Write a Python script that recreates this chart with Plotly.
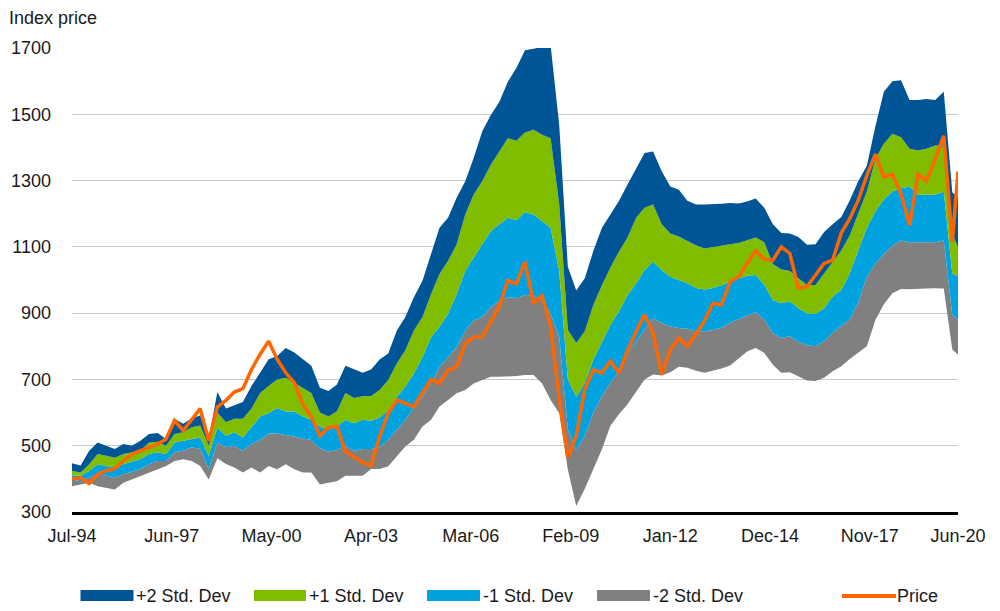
import pandas as pd
import plotly.graph_objects as go

# Quarterly observations Jul-94 ... Apr-20, plus the final Jun-20 point
dates = list(pd.date_range("1994-07-01", "2020-04-01", freq="3MS")) + [pd.Timestamp("2020-06-01")]

upper2 = [447, 440, 485, 510, 500, 490, 505, 500, 515, 535,
          538, 520, 581, 566, 583, 591, 520, 662, 612, 622,
          632, 680, 720, 761, 771, 795, 781, 761, 741, 675,
          665, 685, 741, 731, 720, 730, 760, 778, 848, 888,
          948, 998, 1078, 1158, 1188, 1248, 1298, 1368, 1448, 1498,
          1538, 1598, 1640, 1693, 1698, 1703, 1708, 1468, 1040, 968,
          1005, 1088, 1158, 1198, 1238, 1288, 1338, 1383, 1388, 1328,
          1282, 1272, 1239, 1228, 1228, 1228, 1230, 1232, 1231, 1237,
          1246, 1218, 1168, 1142, 1140, 1130, 1106, 1108, 1145, 1168,
          1190, 1240, 1298, 1345, 1465, 1568, 1600, 1603, 1543, 1543,
          1546, 1543, 1568, 1265, 1248]

upper1 = [424, 419, 444, 475, 470, 464, 475, 480, 485, 510,
          512, 500, 535, 541, 556, 561, 500, 600, 571, 581,
          581, 612, 659, 680, 700, 705, 690, 675, 659, 600,
          588, 604, 659, 644, 649, 650, 668, 698, 748, 788,
          848, 888, 958, 1018, 1058, 1108, 1198, 1258, 1298, 1348,
          1388, 1428, 1420, 1445, 1453, 1438, 1428, 1228, 850, 810,
          845, 925, 985, 1038, 1085, 1128, 1188, 1218, 1228, 1168,
          1140, 1131, 1118, 1105, 1095, 1100, 1105, 1108, 1112, 1121,
          1128, 1114, 1048, 1032, 1027, 1005, 985, 985, 1020, 1054,
          1089, 1134, 1198, 1267, 1366, 1411, 1441, 1431, 1396, 1391,
          1396, 1406, 1406, 1140, 1099]

mean_line = [411, 409, 424, 444, 439, 434, 444, 451, 459, 475,
             480, 475, 510, 515, 520, 525, 470, 555, 530, 541,
             525, 556, 588, 598, 614, 603, 603, 588, 578, 558,
             548, 558, 578, 568, 578, 575, 585, 608, 648, 678,
             718, 768, 828, 858, 898, 958, 1028, 1068, 1108, 1148,
             1168, 1188, 1180, 1205, 1198, 1178, 1158, 1028, 700, 648,
             690, 760, 815, 865, 905, 955, 990, 1030, 1055, 1030,
             1010, 1000, 990, 976, 971, 976, 984, 995, 1005, 1013,
             1015, 986, 940, 930, 936, 915, 900, 898, 915, 950,
             970, 1020, 1089, 1158, 1208, 1243, 1267, 1277, 1282, 1257,
             1257, 1257, 1267, 1020, 1010]

lower1 = [398, 393, 404, 414, 409, 404, 414, 421, 429, 444,
          454, 454, 480, 485, 495, 490, 430, 510, 495, 500,
          485, 505, 517, 537, 537, 532, 527, 522, 517, 492,
          482, 487, 500, 485, 490, 490, 495, 518, 548, 578,
          613, 648, 688, 738, 768, 798, 848, 878, 888, 918,
          938, 948, 945, 955, 953, 938, 898, 828, 550, 487,
          530, 600, 650, 690, 725, 775, 815, 850, 885, 870,
          860, 855, 853, 845, 845, 849, 856, 871, 881, 892,
          903, 881, 840, 825, 830, 814, 803, 800, 815, 841,
          861, 881, 931, 1010, 1050, 1079, 1104, 1119, 1114, 1114,
          1114, 1114, 1119, 895, 881]

lower2 = [378, 383, 388, 378, 373, 368, 388, 398, 410, 419,
          429, 439, 454, 459, 454, 439, 398, 462, 445, 434,
          419, 434, 419, 439, 429, 444, 429, 419, 419, 383,
          388, 393, 409, 409, 409, 430, 430, 438, 468, 498,
          518, 558, 578, 618, 638, 658, 668, 688, 698, 708,
          708, 708, 710, 713, 713, 688, 638, 598, 428, 318,
          370, 430, 490, 560, 595, 625, 665, 700, 715, 712,
          722, 738, 735, 726, 720, 726, 733, 742, 762, 784,
          795, 780, 744, 720, 722, 710, 697, 695, 705, 725,
          740, 762, 780, 800, 880, 927, 960, 973, 972, 972,
          974, 975, 974, 790, 775]

price = [400, 403, 386, 414, 424, 431, 454, 475, 485, 495,
         505, 520, 576, 546, 581, 612, 515, 617, 637, 662,
         672, 730, 776, 815, 761, 720, 690, 625, 588, 530,
         555, 558, 482, 465, 450, 440, 528, 598, 638, 628,
         618, 660, 700, 688, 728, 738, 808, 828, 828, 873,
         923, 998, 988, 1055, 930, 953, 860, 640, 465, 530,
         670, 728, 720, 755, 720, 787, 845, 895, 840, 715,
         790, 825, 800, 837, 877, 930, 925, 995, 1010, 1050,
         1088, 1062, 1060, 1100, 1080, 975, 980, 1015, 1050, 1060,
         1142, 1185, 1240, 1315, 1380, 1310, 1320, 1260, 1165, 1320,
         1300, 1365, 1435, 1115, 1327]

tick_dates = ["1994-07-01", "1997-06-01", "2000-05-01", "2003-04-01", "2006-03-01",
              "2009-02-01", "2012-01-01", "2014-12-01", "2017-11-01", "2020-06-01"]
tick_text = ["Jul-94", "Jun-97", "May-00", "Apr-03", "Mar-06",
             "Feb-09", "Jan-12", "Dec-14", "Nov-17", "Jun-20"]
y_ticks = [300, 500, 700, 900, 1100, 1300, 1500, 1700]

band_names = ["+2 Std. Dev", "+1 Std. Dev", "-1 Std. Dev", "-2 Std. Dev"]
band_colors = ["#005596", "#80BC00", "#00A3E0", "#808080"]
price_color = "#FF6600"

FONT = "Liberation Sans, Arial, sans-serif"
FS = 18
TXT = "#1a1a1a"

fig = go.Figure()
# bottom edge (invisible), then bands stacked upward with fill to previous trace
fig.add_trace(go.Scatter(x=dates, y=lower2, mode="lines", line=dict(width=0),
                         showlegend=False, hoverinfo="skip"))
for vals, name, col in [(lower1, band_names[3], band_colors[3]),
                        (mean_line, band_names[2], band_colors[2]),
                        (upper1, band_names[1], band_colors[1]),
                        (upper2, band_names[0], band_colors[0])]:
    fig.add_trace(go.Scatter(x=dates, y=vals, mode="lines", name=name,
                             line=dict(width=0, color=col), fill="tonexty",
                             fillcolor=col, showlegend=False))
fig.add_trace(go.Scatter(x=dates, y=price, mode="lines", name="Price",
                         line=dict(width=3.5, color=price_color), showlegend=False))

W, H = 1000, 611
L, R, T, B = 72, 42, 48, 99
pw, ph = W - L - R, H - T - B


def px_x(x):
    return (x - L) / pw


def px_y(y):
    return (H - B - y) / ph


shapes = []
annotations = []
legend_items = [(80.5, 133.5, 134, band_names[0], band_colors[0]),
                (254, 306, 307, band_names[1], band_colors[1]),
                (427, 480, 481, band_names[2], band_colors[2]),
                (597, 650, 651, band_names[3], band_colors[3])]
for x0, x1, tx, name, col in legend_items:
    shapes.append(dict(type="rect", xref="paper", yref="paper",
                       x0=px_x(x0), x1=px_x(x1), y0=px_y(601), y1=px_y(590),
                       fillcolor=col, line=dict(width=0)))
    annotations.append(dict(text=name, xref="paper", yref="paper", x=px_x(tx), y=px_y(596),
                            xanchor="left", yanchor="middle", showarrow=False,
                            font=dict(family=FONT, size=FS, color=TXT)))
shapes.append(dict(type="line", xref="paper", yref="paper",
                   x0=px_x(842), x1=px_x(896), y0=px_y(596), y1=px_y(596),
                   line=dict(color=price_color, width=4)))
annotations.append(dict(text="Price", xref="paper", yref="paper", x=px_x(895), y=px_y(596),
                        xanchor="left", yanchor="middle", showarrow=False,
                        font=dict(family=FONT, size=FS, color=TXT)))
annotations.append(dict(text="Index price", xref="paper", yref="paper", x=px_x(7), y=px_y(18),
                        xanchor="left", yanchor="middle", showarrow=False,
                        font=dict(family=FONT, size=FS, color=TXT)))

fig.update_layout(
    width=W, height=H,
    margin=dict(l=L, r=R, t=T, b=B, pad=0),
    paper_bgcolor="white", plot_bgcolor="white",
    font=dict(family=FONT, size=FS, color=TXT),
    showlegend=False,
    shapes=shapes, annotations=annotations,
    xaxis=dict(type="date", range=["1994-07-01", "2020-06-01"],
               tickmode="array", tickvals=tick_dates, ticktext=tick_text,
               showgrid=False, showline=True, linecolor="black", linewidth=2.5,
               ticks="", ticklabelstandoff=6, zeroline=False,
               tickfont=dict(family=FONT, size=FS, color=TXT)),
    yaxis=dict(range=[300, 1700], tickmode="array", tickvals=y_ticks,
               showgrid=True, gridcolor="#C8C8C8", gridwidth=1,
               showline=False, zeroline=False, ticks="", ticklabelstandoff=20,
               tickfont=dict(family=FONT, size=FS, color=TXT)),
)

fig.write_html("out.html", config={"displayModeBar": False},
               post_script="document.body.style.margin='0';")
